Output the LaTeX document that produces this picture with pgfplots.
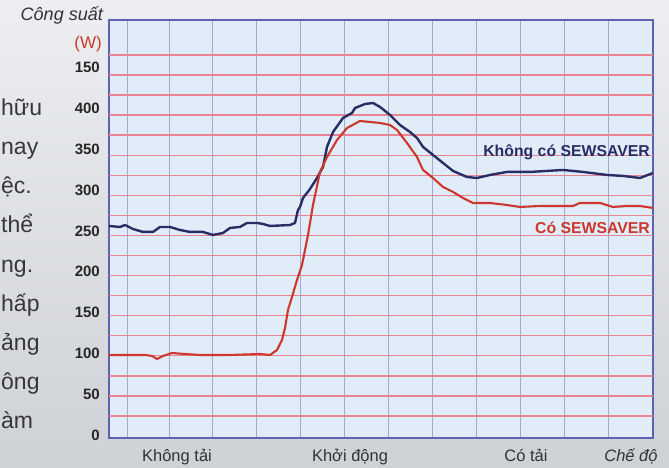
\documentclass[border=0pt]{standalone}
\usepackage{fontspec}
\setmainfont{Liberation Sans}
\usepackage{pgfplots}
\pgfplotsset{compat=1.18}

\definecolor{navyline}{RGB}{42,44,102}
\definecolor{redline}{RGB}{205,55,45}
\definecolor{plotbg}{RGB}{224,237,248}
\definecolor{framecol}{RGB}{95,98,178}
\definecolor{vgrid}{RGB}{165,165,214}
\definecolor{hgrid}{RGB}{234,132,146}
\definecolor{pagetext}{RGB}{55,55,58}

\begin{document}
\begin{tikzpicture}[x=1pt,y=1pt]
\useasboundingbox (0,0) rectangle (669,467);
\shade[top color={rgb,255:red,236;green,238;blue,241}, bottom color={rgb,255:red,206;green,209;blue,213}]
  (0,0) rectangle (669,467);

% words of the page text on the left
\begin{scope}[every node/.style={anchor=base west, inner sep=0pt, text=pagetext, font=\fontsize{23}{25}\selectfont}]
  \node at (1,352) {hữu};
  \node at (1,313) {nay};
  \node at (1,274) {ệc.};
  \node at (1,235) {thể};
  \node at (1,195) {ng.};
  \node at (1,156) {hấp};
  \node at (1,117) {ảng};
  \node at (1,78) {ông};
  \node at (1,39) {àm};
\end{scope}

\begin{axis}[
    at={(109pt,29pt)}, anchor=south west,
    scale only axis,
    width=544pt, height=418pt,
    xmin=109, xmax=653,
    ymin=-3.7, ymax=508.3,
    axis background/.style={fill=plotbg},
    axis line style={draw=framecol, line width=1.3pt},
    major tick length=0pt,
    xtick={127,169,212.9,256.8,300.7,344.6,388.5,432.4,476.3,520.2,564.1,608},
    xticklabels={},
    xmajorgrids,
    major x grid style={draw=vgrid, line width=1pt},
    ytick={0,50,100,150,200,250,300,350,400,450},
    yticklabels={0,50,100,150,200,250,300,350,400,150},
    yticklabel style={font=\fontsize{15}{17}\selectfont\bfseries, text=black!85, inner sep=0pt, xshift=-9pt},
    extra y ticks={23.3,47.8,72.4,97.0,121.6,146.1,170.7,195.3,219.8,244.4,269.0,293.5,318.1,342.7,367.3,391.8,416.4,441.0,465.5},
    extra y tick labels={},
    extra y tick style={grid=major, major grid style={draw=hgrid, line width=1.3pt}},
    clip=true,
]

% Khong co SEWSAVER
\addplot[navyline, line width=2.4pt, line join=round] coordinates {
  (109,256.0) (120,254.8) (125,257.2) (133,252.3) (143,248.7) (153,248.7)
  (160,254.8) (170,254.8) (180,251.1) (190,248.7) (203,248.7) (213,245.0)
  (223,247.4) (230,253.6) (240,254.8) (247,259.7) (257,259.7) (263,258.5)
  (270,256.0) (290,257.2) (295,259.7) (298,275.6) (300,279.3) (303,290.3)
  (310,301.3) (317,314.8) (323,328.3) (327,352.8) (333,371.1) (343,388.3)
  (352,394.4) (355,400.5) (365,405.4) (373,406.7) (380,401.8) (390,392.0)
  (400,379.7) (410,371.1) (417,363.8) (423,352.8) (433,343.0) (443,333.2)
  (453,323.4) (467,316.0) (477,314.8) (490,318.5) (507,322.2) (530,322.2)
  (563,324.6) (583,322.2) (607,318.5) (623,317.3) (640,314.8) (653,320.9)
};

% Co SEWSAVER
\addplot[redline, line width=2.1pt, line join=round] coordinates {
  (109,98.0) (130,98.0) (145,98.0) (152,96.8) (157,93.1) (163,96.8)
  (172,100.4) (185,99.2) (200,98.0) (230,98.0) (260,99.2) (270,98.0)
  (277,104.1) (282,116.4) (285,131.1) (288,153.1) (292,169.0) (297,189.9)
  (302,208.2) (305,226.6) (308,245.0) (313,281.7) (320,322.2) (327,340.5)
  (337,361.3) (347,376.0) (360,384.6) (370,383.4) (380,382.2) (390,379.7)
  (397,373.6) (407,357.7) (417,340.5) (423,324.6) (433,314.8) (443,303.8)
  (453,297.7) (463,290.3) (473,284.2) (490,284.2) (507,281.7) (520,279.3)
  (540,280.5) (573,280.5) (580,284.2) (600,284.2) (613,279.3) (627,280.5)
  (640,280.5) (653,278.1)
};

\node[anchor=east, inner sep=0pt, text=navyline, font=\fontsize{15.8}{18}\selectfont\bfseries]
  at (axis cs:650,346.7) {Không có SEWSAVER};
\node[anchor=east, inner sep=0pt, text=redline, font=\fontsize{15.8}{18}\selectfont\bfseries]
  at (axis cs:650,253.6) {Có SEWSAVER};
\end{axis}

% axis titles
\node[anchor=east, inner sep=0pt, text=black!80, font=\fontsize{18}{20}\selectfont\itshape] at (103,452) {Công suất};
\node[anchor=east, inner sep=0pt, text=redline, font=\fontsize{17}{19}\selectfont] at (102,423) {(W)};

% mode labels under the axis
\begin{scope}[every node/.style={anchor=base, inner sep=0pt, text=black!80, font=\fontsize{16.5}{18}\selectfont}]
  \node at (177,6) {Không tải};
  \node at (350,6) {Khởi động};
  \node at (526,6) {Có tải};
  \node[font=\fontsize{16.5}{18}\selectfont\itshape] at (631,6) {Chế độ};
\end{scope}
\end{tikzpicture}
\end{document}
